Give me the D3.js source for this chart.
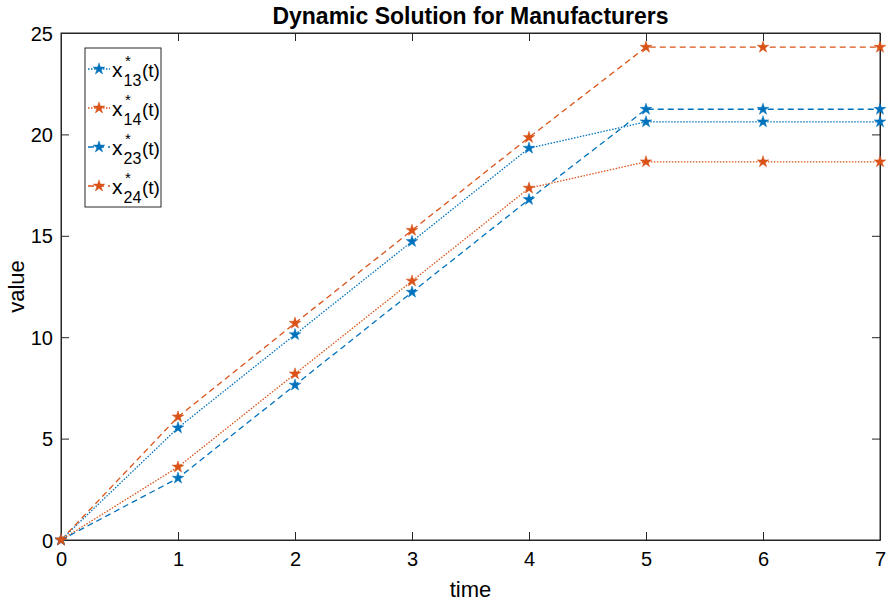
<!DOCTYPE html>
<html>
<head>
<meta charset="utf-8">
<script src="https://cdn.jsdelivr.net/npm/d3@7"></script>
<style>
  body { margin: 0; background: #fff; }
  text { font-family: 'Liberation Sans', Arial, sans-serif; fill: #000; }
</style>
</head>
<body>
<div id="chart"></div>
<script>
const times = [0, 1, 2, 3, 4, 5, 6, 7];
const x13 = [0, 5.53, 10.13, 14.72, 19.32, 20.62, 20.62, 20.62];
const x14 = [0, 3.60, 8.19, 12.77, 17.35, 18.65, 18.65, 18.65];
const x23 = [0, 3.05, 7.64, 12.22, 16.79, 21.24, 21.24, 21.24];
const x24 = [0, 6.07, 10.69, 15.27, 19.85, 24.30, 24.30, 24.30];
const seriesNames = ['13', '14', '23', '24'];
const xTicks = [0, 1, 2, 3, 4, 5, 6, 7];
const yTicks = [0, 5, 10, 15, 20, 25];

const series = [
  { sub: seriesNames[0], values: x13, color: '#0072BD', dash: '1.5,1.5' },
  { sub: seriesNames[1], values: x14, color: '#D95319', dash: '1.5,1.5' },
  { sub: seriesNames[2], values: x23, color: '#0072BD', dash: '6,4' },
  { sub: seriesNames[3], values: x24, color: '#D95319', dash: '6,4' }
];

const width = 889;
const height = 603;
const margin = { top: 33, right: 9, bottom: 63, left: 61 };
const innerWidth = width - margin.left - margin.right;
const innerHeight = height - margin.top - margin.bottom;

const svg = d3.select('#chart')
  .append('svg')
  .attr('width', width)
  .attr('height', height);

const g = svg.append('g')
  .attr('transform', `translate(${margin.left},${margin.top})`);

const xScale = d3.scaleLinear().domain([0, 7]).range([0, innerWidth]);
const yScale = d3.scaleLinear().domain([0, 25]).range([innerHeight, 0]);

const axisColor = '#262626';

// box
g.append('rect')
  .attr('width', innerWidth)
  .attr('height', innerHeight)
  .attr('fill', 'none')
  .attr('stroke', axisColor)
  .attr('stroke-width', 1);

// axes with inner ticks
const fmt = d3.format('d');
const xAxis = g.append('g')
  .attr('transform', `translate(0,${innerHeight})`)
  .call(d3.axisBottom(xScale).tickValues(xTicks).tickSizeInner(-8).tickSizeOuter(0).tickFormat(fmt));
const xAxisTop = g.append('g')
  .call(d3.axisTop(xScale).tickValues(xTicks).tickSizeInner(-8).tickSizeOuter(0).tickFormat(''));
const yAxis = g.append('g')
  .call(d3.axisLeft(yScale).tickValues(yTicks).tickSizeInner(-8).tickSizeOuter(0).tickFormat(fmt));
const yAxisRight = g.append('g')
  .attr('transform', `translate(${innerWidth},0)`)
  .call(d3.axisRight(yScale).tickValues(yTicks).tickSizeInner(-8).tickSizeOuter(0).tickFormat(''));

// drop the empty labels on the mirrored axes
xAxisTop.selectAll('.tick text').remove();
yAxisRight.selectAll('.tick text').remove();

[xAxis, xAxisTop, yAxis, yAxisRight].forEach(a => {
  a.select('.domain').attr('stroke', axisColor);
  a.selectAll('.tick line').attr('stroke', axisColor);
  a.selectAll('.tick text')
    .style('font-size', '20px')
    .style('font-family', "'Liberation Sans', Arial, sans-serif")
    .attr('fill', '#000');
});
xAxis.selectAll('.tick text').attr('y', 12).attr('dy', '0.71em');
yAxis.selectAll('.tick text').attr('x', -8).attr('dy', '0.35em');

// lines
const line = d3.line()
  .x((d, i) => xScale(times[i]))
  .y(d => yScale(d));

const star = d3.symbol().type(d3.symbolStar).size(42);

series.forEach(s => {
  g.append('path')
    .datum(s.values)
    .attr('d', line)
    .attr('fill', 'none')
    .attr('stroke', s.color)
    .attr('stroke-width', 1.3)
    .attr('stroke-dasharray', s.dash);

  g.selectAll(null)
    .data(s.values)
    .enter()
    .append('path')
    .attr('d', star)
    .attr('transform', (d, i) => `translate(${xScale(times[i])},${yScale(d)})`)
    .attr('fill', s.color)
    .attr('stroke', s.color)
    .attr('stroke-width', 0.5);
});

// title and labels
svg.append('text')
  .attr('x', margin.left + innerWidth / 2)
  .attr('y', 24)
  .attr('text-anchor', 'middle')
  .style('font-size', '23px')
  .style('font-weight', 'bold')
  .text('Dynamic Solution for Manufacturers');

svg.append('text')
  .attr('x', margin.left + innerWidth / 2)
  .attr('y', 597)
  .attr('text-anchor', 'middle')
  .style('font-size', '22px')
  .text('time');

svg.append('text')
  .attr('transform', `translate(24,${margin.top + innerHeight / 2}) rotate(-90)`)
  .attr('text-anchor', 'middle')
  .style('font-size', '22px')
  .text('value');

// legend
const legend = svg.append('g')
  .attr('transform', 'translate(85,48)');

legend.append('rect')
  .attr('width', 76)
  .attr('height', 159)
  .attr('fill', '#fff')
  .attr('stroke', axisColor)
  .attr('stroke-width', 1);

legend.selectAll(null)
  .data(series)
  .enter()
  .append('g')
  .attr('transform', (d, i) => `translate(0, ${21 + i * 39})`)
  .each(function(d) {
    const item = d3.select(this);
    item.append('line')
      .attr('x1', 3).attr('x2', 25)
      .attr('y1', 0).attr('y2', 0)
      .attr('stroke', d.color)
      .attr('stroke-width', 1.3)
      .attr('stroke-dasharray', d.dash);
    item.append('path')
      .attr('d', star)
      .attr('transform', 'translate(14,0)')
      .attr('fill', d.color)
      .attr('stroke', d.color)
      .attr('stroke-width', 0.5);
    item.append('text')
      .attr('x', 27).attr('y', 8)
      .style('font-size', '21px')
      .text('x');
    item.append('text')
      .attr('x', 40).attr('y', -3)
      .style('font-size', '15px')
      .text('*');
    item.append('text')
      .attr('x', 38.5).attr('y', 17)
      .style('font-size', '16px')
      .text(d.sub);
    item.append('text')
      .attr('x', 57).attr('y', 8)
      .style('font-size', '19px')
      .text('(t)');
  });
</script>
</body>
</html>
